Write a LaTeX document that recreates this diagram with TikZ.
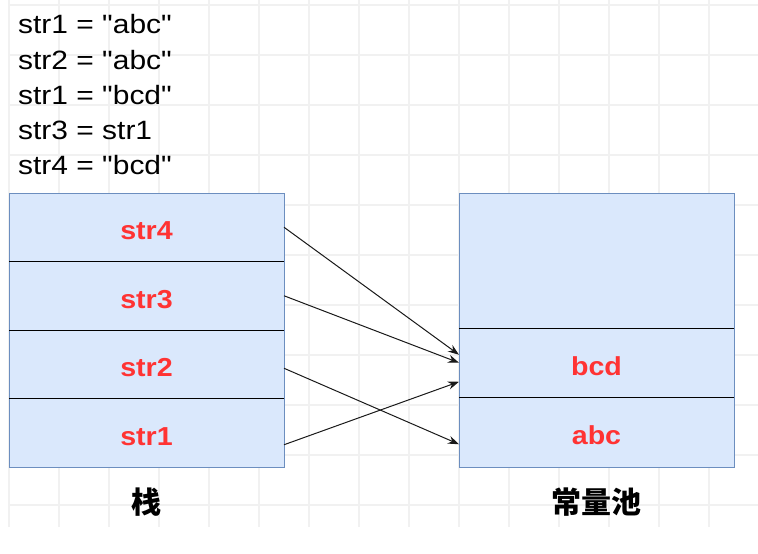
\documentclass[tikz,border=0pt]{standalone}
\usepackage{fontspec}
\setmainfont{Liberation Sans}
\newfontfamily\codefont[FakeStretch=1.13]{Liberation Sans}
\newfontfamily\labfont[FakeStretch=1.1]{Liberation Sans}
\newfontfamily\cjkfont{Noto Sans CJK SC}
\usepackage{tikz}
\usetikzlibrary{calc}
\usetikzlibrary{arrows.meta,positioning}
\definecolor{cellfill}{HTML}{DAE8FC}
\definecolor{cellline}{HTML}{6C8EBF}
\definecolor{labred}{HTML}{FF3333}
\definecolor{gridgray}{HTML}{F1F1F1}
\tikzset{
  cell/.style={draw=cellline,fill=cellfill,minimum width=275pt,inner sep=0pt,outer sep=0pt,
    text height=25pt,text depth=0pt,
    font=\labfont\bfseries\fontsize{26}{31}\selectfont,text=labred},
  code/.style={inner sep=0pt,font=\codefont\fontsize{26.5}{31}\selectfont},
  caption/.style={inner sep=0pt,font=\cjkfont\bfseries\fontsize{30}{36}\selectfont},
  ptr/.style={-{Stealth[length=11pt,width=8pt]},line width=1pt,black!90},
  sepline/.style={black,line width=0.9pt}
}

\begin{document}
\begin{tikzpicture}[x=1pt,y=-1pt]
    \useasboundingbox (0,0) rectangle (758,554);
    % grid
    \foreach \gx in {9,59,...,709} \draw[gridgray,line width=1.4pt] (\gx,0) -- (\gx,527);
    \foreach \gy in {5,55,...,505} \draw[gridgray,line width=1.4pt] (9,\gy) -- (758,\gy);

    \foreach \txt [count=\i] in {str1 = "abc", str2 = "abc", str1 = "bcd", str3 = str1, str4 = "bcd"}
      \node[code,anchor=base west] (code\i) at (18,{34+35*(\i-1)}) {\txt};

    % stack
    \node[cell,minimum height=68.5pt,anchor=north west] (s4) at (9,193) {str4};
    \node[cell,minimum height=68.5pt,below=0pt of s4] (s3) {str3};
    \node[cell,minimum height=68.5pt,below=0pt of s3] (s2) {str2};
    \node[cell,minimum height=68.5pt,below=0pt of s2] (s1) {str1};
    \draw[sepline] (s4.south west) -- (s4.south east);
    \draw[sepline] (s3.south west) -- (s3.south east);
    \draw[sepline] (s2.south west) -- (s2.south east);

    % constant pool
    \node[cell,minimum height=135pt,anchor=north west] (pempty) at (459,193) {};
    \node[cell,minimum height=69.5pt,below=0pt of pempty] (pbcd) {bcd};
    \node[cell,minimum height=69.5pt,below=0pt of pbcd] (pabc) {abc};
    \draw[sepline] (pempty.south west) -- (pempty.south east);
    \draw[sepline] (pbcd.south west) -- (pbcd.south east);

    \draw[ptr] (s4.east) -- ($(pbcd.west)+(0,-8)$);
    \draw[ptr] (s3.east) -- (pbcd.west);
    \draw[ptr] ($(s2.east)+(0,4)$) -- ($(pabc.west)+(0,12)$);
    \draw[ptr] ($(s1.east)+(0,12)$) -- ($(pbcd.west)+(0,19)$);

    \node[caption,below=21pt of s1] (stacklab) {栈};
    \node[caption,below=21pt of pabc] (poollab) {常量池};
\end{tikzpicture}
\end{document}
